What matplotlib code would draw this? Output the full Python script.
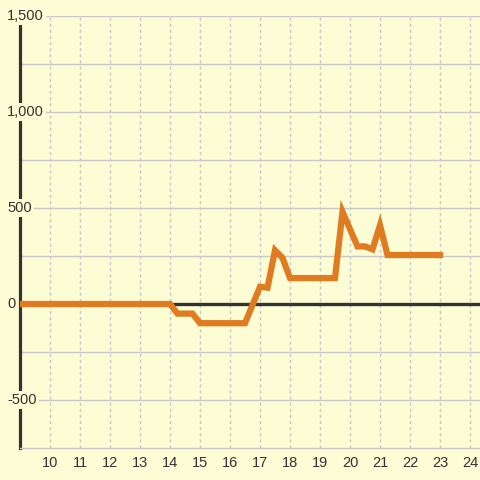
import matplotlib
matplotlib.use("Agg")
import matplotlib.pyplot as plt
import matplotlib.transforms as mtransforms

# data
x_vals = [9.0, 14.0, 14.25, 14.75, 15.0, 16.5, 17.0, 17.25, 17.5, 17.75, 18.0,
          19.5, 19.75, 20.25, 20.5, 20.75, 21.0, 21.25, 23.0]
y_vals = [0, 0, -50, -50, -100, -100, 90, 85, 280, 240, 135,
          135, 480, 300, 300, 285, 410, 255, 255]
x_ticks = list(range(10, 25))
y_label_vals = [1500, 1000, 500, 0, -500]
y_label_text = ["1,500", "1,000", "500", "0", "-500"]
y_grid_vals = [1500, 1250, 1000, 750, 500, 250, 0, -250, -500]

bg = "#fcfcd5"
grid_c = "#c8c8c8"
txt_c = "#333333"
line_c = "#e07b22"

plt.rcParams['font.family'] = ['Liberation Sans', 'DejaVu Sans']

fig = plt.figure(figsize=(4.8, 4.8), dpi=100, facecolor=bg)
ax = fig.add_axes([20/480, 32/480, 460/480, 432/480])
ax.set_facecolor(bg)
ax.set_xlim(9, 24 + 1/3)
ax.set_ylim(-750, 1500)

for yv in y_grid_vals:
    ax.axhline(yv, color=grid_c, lw=1.0, zorder=1)
for xv in x_ticks:
    ax.axvline(xv, color=grid_c, lw=1.0, ls=(0, (2.2, 2.2)), zorder=1)

ax.axhline(0, color="#333333", lw=2.4, zorder=3)
ax.plot(x_vals, y_vals, color=line_c, lw=4.5, zorder=4,
        solid_joinstyle='miter', solid_capstyle='projecting')

for s in ['top', 'right']:
    ax.spines[s].set_visible(False)
ax.spines['bottom'].set_color(grid_c)
ax.spines['bottom'].set_linewidth(1.0)
ax.spines['left'].set_color("#333333")
ax.spines['left'].set_linewidth(2.3)

ax.set_xticks(x_ticks)
ax.set_xticklabels([str(t) for t in x_ticks], fontsize=10.5, color=txt_c)
ax.tick_params(axis='x', length=0, pad=6)
ax.set_yticks([])

trans = mtransforms.blended_transform_factory(fig.transFigure, ax.transData)
for v, t in zip(y_label_vals, y_label_text):
    ax.text(7/480, v, t, transform=trans, ha='left', va='center', fontsize=10.5,
            color=txt_c, zorder=6, clip_on=False,
            bbox=dict(facecolor=bg, edgecolor='none', pad=1.5))

fig.savefig("out.png", dpi=100, facecolor=bg)
